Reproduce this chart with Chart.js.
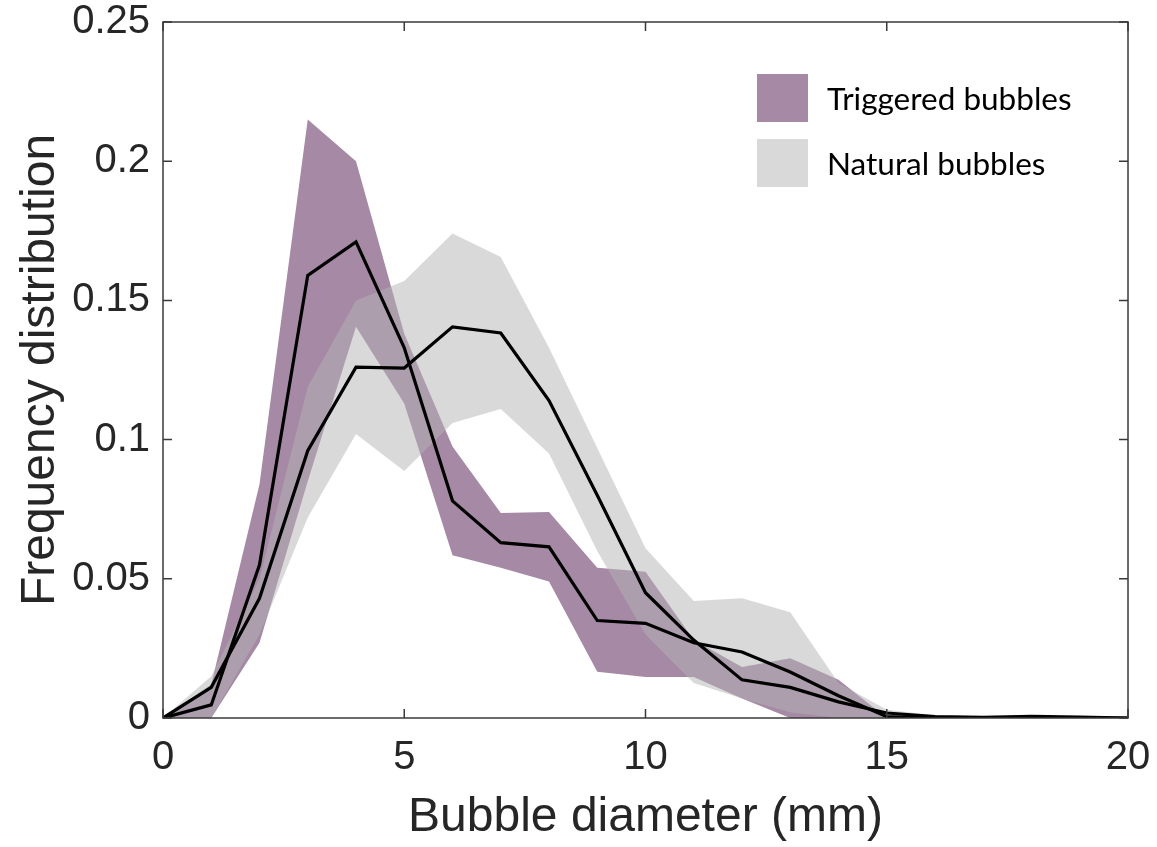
<!DOCTYPE html>
<html>
<head>
<meta charset="utf-8">
<title>Bubble diameter distribution</title>
<script src="https://cdn.jsdelivr.net/npm/chart.js@4.4.0/dist/chart.umd.min.js"></script>
<style>
    html, body { margin: 0; padding: 0; background: #ffffff; }
    #wrap { width: 1157px; height: 847px; }
</style>
</head>
<body>
<div id="wrap"><canvas id="bubbleChart" width="1157" height="847"></canvas></div>
<script>
// Data (bubble diameter in mm, frequency distribution)
const diameters = [0, 1, 2, 3, 4, 5, 6, 7, 8, 9, 10, 11, 12, 13, 14, 15, 16, 17, 18, 19, 20];

const triggeredMean  = [0, 0.0047, 0.055, 0.159, 0.171, 0.133, 0.078, 0.063, 0.0615, 0.035, 0.034, 0.027, 0.0237, 0.0165, 0.008, 0.0005, 0, 0, 0, 0, 0];
const triggeredUpper = [0, 0.012, 0.084, 0.215, 0.200, 0.138, 0.0975, 0.0736, 0.074, 0.054, 0.0525, 0.028, 0.0183, 0.0215, 0.0137, 0, 0, 0, 0, 0, 0];
const triggeredLower = [0, 0, 0.027, 0.085, 0.1405, 0.113, 0.0585, 0.054, 0.049, 0.0166, 0.0147, 0.0147, 0.007, 0, 0, 0, 0, 0, 0, 0, 0];

const naturalMean  = [0, 0.011, 0.043, 0.096, 0.126, 0.1257, 0.1405, 0.1383, 0.114, 0.080, 0.045, 0.028, 0.0137, 0.011, 0.0058, 0.0018, 0.0005, 0.0002, 0.0006, 0.0003, 0];
const naturalUpper = [0, 0.015, 0.050, 0.119, 0.150, 0.157, 0.174, 0.1656, 0.133, 0.097, 0.061, 0.042, 0.043, 0.038, 0.0126, 0.003, 0.001, 0, 0, 0, 0];
const naturalLower = [0, 0, 0.030, 0.072, 0.102, 0.0887, 0.106, 0.111, 0.095, 0.060, 0.030, 0.0126, 0.007, 0.002, 0, 0, 0, 0, 0, 0, 0];

const xTickLabels = ['0', '5', '10', '15', '20'];
const yTickLabels = ['0', '0.05', '0.1', '0.15', '0.2', '0.25'];

const legendLabels = ['Triggered bubbles', 'Natural bubbles'];

// Colours
const PURPLE = '#a589a5';
const GREY_FILL = 'rgba(179, 179, 179, 0.5)';
const GREY_SWATCH = '#d9d9d9';
const AXIS_COLOR = '#3a3a3a';
const TEXT_COLOR = '#262626';

// Pair x with y values
function toPoints(values) {
    return diameters.map((d, i) => ({ x: d, y: values[i] }));
}

// Inward ticks on all four sides plus the box, MATLAB style
const boxTicks = {
    id: 'boxTicks',
    afterDatasetsDraw(chart) {
        const { ctx, chartArea, scales } = chart;
        const len = 9;
        ctx.save();
        ctx.strokeStyle = AXIS_COLOR;
        ctx.lineWidth = 1.5;
        ctx.strokeRect(chartArea.left, chartArea.top, chartArea.right - chartArea.left, chartArea.bottom - chartArea.top);
        ctx.beginPath();
        scales.x.ticks.forEach(t => {
            const px = scales.x.getPixelForValue(t.value);
            ctx.moveTo(px, chartArea.bottom);
            ctx.lineTo(px, chartArea.bottom - len);
            ctx.moveTo(px, chartArea.top);
            ctx.lineTo(px, chartArea.top + len);
        });
        scales.y.ticks.forEach(t => {
            const py = scales.y.getPixelForValue(t.value);
            ctx.moveTo(chartArea.left, py);
            ctx.lineTo(chartArea.left + len, py);
            ctx.moveTo(chartArea.right, py);
            ctx.lineTo(chartArea.right - len, py);
        });
        ctx.stroke();
        ctx.restore();
    }
};

// Legend box inside the plot, upper right
const insideLegend = {
    id: 'insideLegend',
    afterDraw(chart) {
        const { ctx } = chart;
        const swatches = [PURPLE, GREY_SWATCH];
        ctx.save();
        ctx.font = '31.5px Lato, "Open Sans", sans-serif';
        ctx.textBaseline = 'middle';
        swatches.forEach((col, i) => {
            const top = 74 + i * 65;
            ctx.fillStyle = col;
            ctx.fillRect(757, top, 51, 48);
            ctx.fillStyle = '#000000';
            ctx.fillText(legendLabels[i], 827, top + 26);
        });
        ctx.restore();
    }
};

const ctx = document.getElementById('bubbleChart').getContext('2d');

new Chart(ctx, {
    type: 'line',
    data: {
        datasets: [
            {
                label: 'Triggered upper',
                data: toPoints(triggeredUpper),
                borderWidth: 0,
                borderColor: 'rgba(0,0,0,0)',
                backgroundColor: PURPLE,
                pointRadius: 0,
                fill: '+1',
                order: 3
            },
            {
                label: 'Triggered lower',
                data: toPoints(triggeredLower),
                borderWidth: 0,
                borderColor: 'rgba(0,0,0,0)',
                pointRadius: 0,
                fill: false,
                order: 3
            },
            {
                label: 'Natural upper',
                data: toPoints(naturalUpper),
                borderWidth: 0,
                borderColor: 'rgba(0,0,0,0)',
                backgroundColor: GREY_FILL,
                pointRadius: 0,
                fill: '+1',
                order: 2
            },
            {
                label: 'Natural lower',
                data: toPoints(naturalLower),
                borderWidth: 0,
                borderColor: 'rgba(0,0,0,0)',
                pointRadius: 0,
                fill: false,
                order: 2
            },
            {
                label: 'Triggered bubbles',
                data: toPoints(triggeredMean),
                borderColor: '#000000',
                borderWidth: 3.2,
                pointRadius: 0,
                fill: false,
                order: 1
            },
            {
                label: 'Natural bubbles',
                data: toPoints(naturalMean),
                borderColor: '#000000',
                borderWidth: 3.2,
                pointRadius: 0,
                fill: false,
                order: 1
            }
        ]
    },
    options: {
        responsive: false,
        animation: false,
        layout: {
            padding: { top: 22, right: 29, left: 0, bottom: 0 }
        },
        plugins: {
            legend: { display: false },
            tooltip: { enabled: false }
        },
        scales: {
            x: {
                type: 'linear',
                min: 0,
                max: 20,
                afterFit: function(scale) {
                    // pin the plot box: no extra room for label overhang
                    scale.height = 129;
                    scale.paddingLeft = 0;
                    scale.paddingRight = 0;
                },
                grid: { display: false, drawTicks: false },
                border: { display: false },
                ticks: {
                    stepSize: 5,
                    padding: 16,
                    color: TEXT_COLOR,
                    font: { family: '"Liberation Sans", Arial, sans-serif', size: 40 },
                    maxRotation: 0,
                    callback: function(value) {
                        const idx = Math.round(value / 5);
                        return xTickLabels[idx];
                    }
                },
                title: {
                    display: true,
                    text: 'Bubble diameter (mm)',
                    color: TEXT_COLOR,
                    font: { family: '"Liberation Sans", Arial, sans-serif', size: 48 },
                    padding: { top: 0, bottom: 0 }
                }
            },
            y: {
                min: 0,
                max: 0.25,
                afterFit: function(scale) {
                    scale.width = 163;
                    scale.paddingTop = 0;
                    scale.paddingBottom = 0;
                },
                grid: { display: false, drawTicks: false },
                border: { display: false },
                ticks: {
                    stepSize: 0.05,
                    padding: 13,
                    color: TEXT_COLOR,
                    font: { family: '"Liberation Sans", Arial, sans-serif', size: 40 },
                    callback: function(value) {
                        const idx = Math.round(value / 0.05);
                        return yTickLabels[idx];
                    }
                },
                title: {
                    display: true,
                    text: 'Frequency distribution',
                    color: TEXT_COLOR,
                    font: { family: '"Liberation Sans", Arial, sans-serif', size: 48 },
                    padding: { top: 12, bottom: 0 }
                }
            }
        }
    },
    plugins: [boxTicks, insideLegend]
});
</script>
</body>
</html>
